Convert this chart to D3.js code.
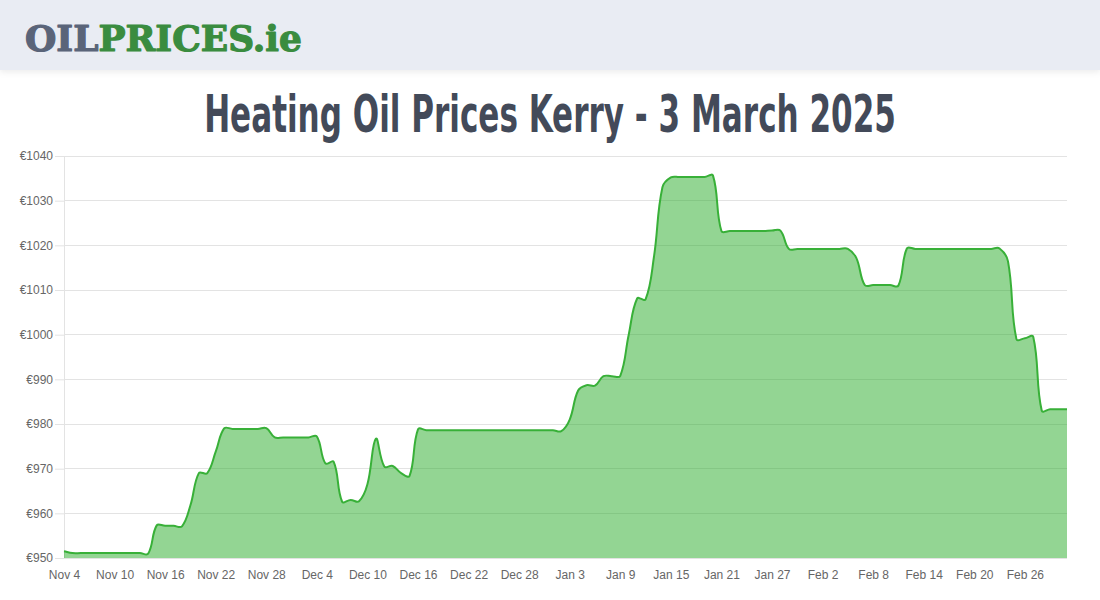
<!DOCTYPE html>
<html><head><meta charset="utf-8">
<script src="https://cdn.jsdelivr.net/npm/d3@7"></script>
<style>
html,body{margin:0;padding:0;background:#fff;}
svg{display:block;}
</style></head>
<body>
<svg id="chart" width="1100" height="600"></svg>
<script>
// ---- data ----
const startDate = new Date(2024, 10, 4);
const endDate = new Date(2025, 2, 4);
const fmt = d3.timeFormat("%b %-d");
const categories = d3.timeDay.range(startDate, endDate).map(fmt); // Nov 4 .. Mar 3
const prices = [
  951.5, 951.1, 951.1, 951.1, 951.1, 951.1, 951.1, 951.1, 951.1, 951.1,
  951.0, 957.3, 957.2, 957.2, 957.1, 961.8, 969.0, 969.0, 973.8, 979.0,
  978.9, 978.9, 978.9, 978.9, 979.1, 977.0, 977.0, 977.0, 977.0, 977.0,
  977.2, 971.2, 971.5, 962.6, 963.0, 962.7, 966.5, 976.7, 970.5, 970.6,
  969.0, 968.4, 978.8, 978.6, 978.6, 978.6, 978.6, 978.6, 978.6, 978.6,
  978.6, 978.6, 978.6, 978.6, 978.6, 978.6, 978.6, 978.6, 978.6, 978.4,
  981.0, 987.5, 988.7, 988.6, 990.7, 990.7, 990.8, 1000.0, 1008.1, 1007.9,
  1017.5, 1033.0, 1035.2, 1035.3, 1035.3, 1035.3, 1035.3, 1035.6, 1023.2, 1023.2,
  1023.2, 1023.2, 1023.2, 1023.2, 1023.3, 1023.3, 1019.2, 1019.2, 1019.2, 1019.2,
  1019.2, 1019.2, 1019.2, 1019.2, 1017.2, 1011.1, 1011.1, 1011.1, 1011.1, 1011.0,
  1019.3, 1019.2, 1019.2, 1019.2, 1019.2, 1019.2, 1019.2, 1019.2, 1019.2, 1019.2,
  1019.2, 1019.3, 1016.4, 999.0, 999.2, 999.5, 983.0, 983.3, 983.3, 983.3
];
const yTicks = [950, 960, 970, 980, 990, 1000, 1010, 1020, 1030, 1040];
const xTickLabels = categories.filter((d, i) => i % 6 === 0);
const titleText = "Heating Oil Prices Kerry - 3 March 2025";

// ---- layout ----
const svg = d3.select("#chart");
const plotLeft = 64, plotRight = 1067, plotTop = 156, plotBottom = 558;

// header
const defs = svg.append("defs");
const f = defs.append("filter").attr("id", "shadow").attr("x", "-5%").attr("y", "-20%").attr("width", "110%").attr("height", "150%");
f.append("feDropShadow").attr("dx", 0).attr("dy", 2).attr("stdDeviation", 3).attr("flood-color", "#000").attr("flood-opacity", 0.08);
svg.append("rect").attr("x", 0).attr("y", 0).attr("width", 1100).attr("height", 70)
  .attr("fill", "#e9ecf3").attr("filter", "url(#shadow)");

function fitText(sel, width) {
  const w = sel.node().getComputedTextLength();
  const fs = parseFloat(sel.attr("font-size"));
  sel.attr("font-size", (fs * width / w).toFixed(2));
}

const logo = svg.append("text").attr("x", 25).attr("y", 51)
  .attr("font-family", "'DejaVu Serif', serif").attr("font-weight", "bold").attr("font-size", 38)
  .attr("stroke-width", 1.2).attr("stroke-linejoin", "round");
logo.append("tspan").attr("fill", "#5a6479").attr("stroke", "#5a6479").text("OIL");
logo.append("tspan").attr("fill", "#3a8c3f").attr("stroke", "#3a8c3f").text("PRICES.ie");
fitText(logo, 277);

// title: tall condensed look — natural size, horizontally compressed to reference width
const titleG = svg.append("g");
const title = titleG.append("text").attr("x", 0).attr("y", 0).attr("text-anchor", "middle")
  .attr("font-family", "'DejaVu Sans Condensed', 'DejaVu Sans', sans-serif")
  .attr("font-weight", "bold").attr("font-size", 51).attr("fill", "#434a59")
  .text(titleText);
const tw = title.node().getComputedTextLength();
titleG.attr("transform", `translate(550,132) scale(${(692 / tw).toFixed(4)},1)`);

// scales
const x = d3.scalePoint().domain(categories).range([plotLeft, plotRight]);
const y = d3.scaleLinear().domain([950, 1040]).range([plotBottom, plotTop]);

// grid
const yAxis = d3.axisLeft(y).tickValues(yTicks).tickFormat(d => "€" + d).tickSize(9).tickPadding(2);
const yg = svg.append("g").attr("transform", `translate(${plotLeft},0)`).call(yAxis);
yg.select(".domain").remove();
yg.selectAll("line").attr("stroke", "#e3e3e3");
yg.selectAll("text").attr("fill", "#666").attr("font-family", "'Liberation Sans', Arial, sans-serif").attr("font-size", 12);
svg.append("g").selectAll("line").data(yTicks).join("line")
  .attr("x1", plotLeft).attr("x2", plotRight).attr("y1", d => y(d)).attr("y2", d => y(d))
  .attr("stroke", "#e3e3e3").attr("stroke-width", 1).attr("shape-rendering", "crispEdges");
svg.append("line").attr("x1", plotLeft).attr("x2", plotLeft).attr("y1", plotTop).attr("y2", plotBottom)
  .attr("stroke", "#e3e3e3").attr("shape-rendering", "crispEdges");

const xAxis = d3.axisBottom(x).tickValues(xTickLabels).tickSize(0).tickPadding(12);
const xg = svg.append("g").attr("transform", `translate(0,${plotBottom})`).call(xAxis);
xg.select(".domain").remove();
xg.selectAll("text").attr("fill", "#666").attr("font-family", "'Liberation Sans', Arial, sans-serif").attr("font-size", 12);

// Chart.js-like spline curve (tension 0.4)
function ChartSpline(context) { this._context = context; }
ChartSpline.prototype = {
  areaStart() { this._line = 0; },
  areaEnd() { this._line = NaN; },
  lineStart() { this._pts = []; },
  point(px, py) { this._pts.push([+px, +py]); },
  lineEnd() {
    const p = this._pts, n = p.length, c = this._context, t = 0.4;
    if (n) {
      if (this._line) c.lineTo(p[0][0], p[0][1]); else c.moveTo(p[0][0], p[0][1]);
      const cpPrev = [], cpNext = [];
      const clampY = v => Math.max(plotTop, Math.min(plotBottom, v));
      for (let i = 0; i < n; i++) {
        const prev = p[i - 1] || p[i], cur = p[i], next = p[i + 1] || p[i];
        const d01 = Math.hypot(cur[0] - prev[0], cur[1] - prev[1]);
        const d12 = Math.hypot(next[0] - cur[0], next[1] - cur[1]);
        let s01 = d01 / (d01 + d12), s12 = d12 / (d01 + d12);
        if (isNaN(s01)) s01 = 0; if (isNaN(s12)) s12 = 0;
        const fa = t * s01, fb = t * s12;
        cpPrev.push([cur[0] - fa * (next[0] - prev[0]), clampY(cur[1] - fa * (next[1] - prev[1]))]);
        cpNext.push([cur[0] + fb * (next[0] - prev[0]), clampY(cur[1] + fb * (next[1] - prev[1]))]);
      }
      for (let i = 1; i < n; i++) {
        c.bezierCurveTo(cpNext[i - 1][0], cpNext[i - 1][1], cpPrev[i][0], cpPrev[i][1], p[i][0], p[i][1]);
      }
      if (this._line || (this._line !== 0 && n === 1)) c.closePath();
    }
    this._line = 1 - this._line;
  }
};
const chartSpline = ctx => new ChartSpline(ctx);

const pts = prices.map((v, i) => ({ c: categories[i], v }));
const area = d3.area().x(d => x(d.c)).y0(plotBottom).y1(d => y(d.v)).curve(chartSpline);
const line = d3.line().x(d => x(d.c)).y(d => y(d.v)).curve(chartSpline);

svg.append("path").datum(pts).attr("d", area).attr("fill", "rgb(40,172,40)").attr("fill-opacity", 0.5);
svg.append("path").datum(pts).attr("d", line).attr("fill", "none").attr("stroke", "#38b038").attr("stroke-width", 2);
</script>
</body></html>
